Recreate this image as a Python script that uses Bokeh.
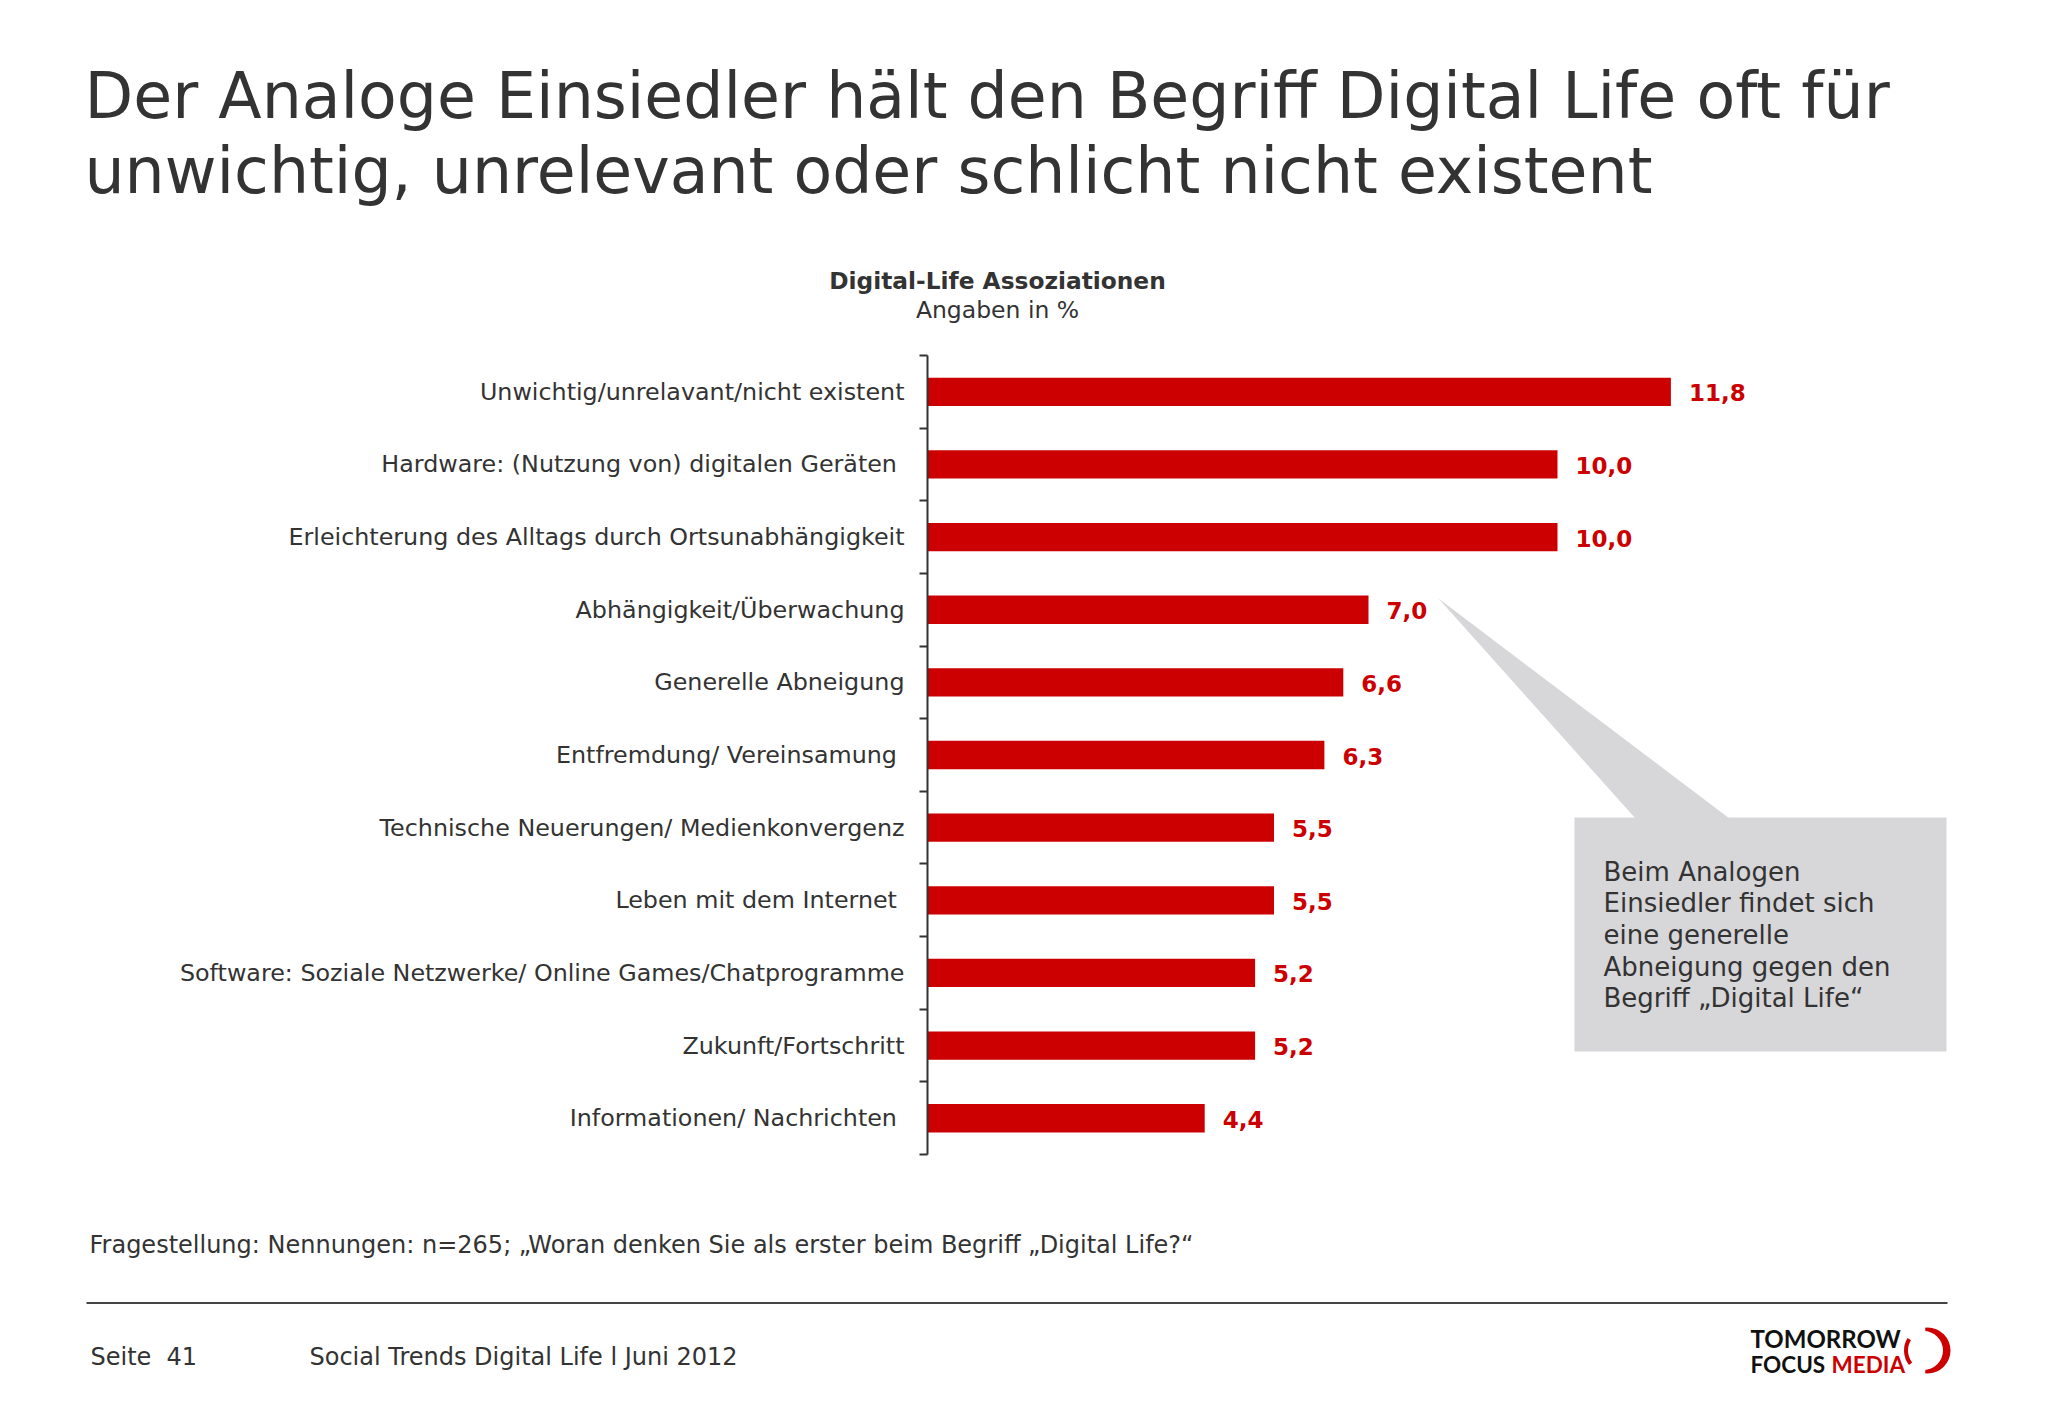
from bokeh.plotting import figure
from bokeh.models import (LinearAxis, FixedTicker, Range1d, Label, BoxAnnotation,
                          ColumnDataSource)
from bokeh.core.properties import value
from bokeh.embed import file_html
from bokeh.resources import INLINE

# ---------------- data ----------------
categories = [
    "Unwichtig/unrelavant/nicht existent",
    "Hardware: (Nutzung von) digitalen Geräten ",
    "Erleichterung des Alltags durch Ortsunabhängigkeit",
    "Abhängigkeit/Überwachung",
    "Generelle Abneigung",
    "Entfremdung/ Vereinsamung ",
    "Technische Neuerungen/ Medienkonvergenz",
    "Leben mit dem Internet ",
    "Software: Soziale Netzwerke/ Online Games/Chatprogramme",
    "Zukunft/Fortschritt",
    "Informationen/ Nachrichten ",
]
values = [11.8, 10.0, 10.0, 7.0, 6.6, 6.3, 5.5, 5.5, 5.2, 5.2, 4.4]

title_lines = [
    "Der Analoge Einsiedler hält den Begriff Digital Life oft für",
    "unwichtig, unrelevant oder schlicht nicht existent",
]
chart_title = "Digital-Life Assoziationen"
chart_subtitle = "Angaben in %"
callout_lines = [
    "Beim Analogen",
    "Einsiedler findet sich",
    "eine generelle",
    "Abneigung gegen den",
    "Begriff „Digital Life“",
]
footnote = "Fragestellung: Nennungen: n=265; „Woran denken Sie als erster beim Begriff „Digital Life?“"
footer_page = "Seite\u00a0 41"
footer_source = "Social Trends Digital Life l Juni 2012"

# ---------------- layout helpers (canvas pixels) ----------------
W, H = 2032, 1402
LEFT = 40             # frame starts here; the axis panel sits in this strip
X0 = 927              # px of value 0 (the axis)
PX_PER_UNIT = 63.0
Y0 = 355              # px of the top category boundary
PX_PER_ROW = 72.64
K = 0.37              # baseline sits this many em below a "middle" anchor

def dx(px):
    return (px - X0) / PX_PER_UNIT

def dy(py):
    return (py - Y0) / PX_PER_ROW

TEXT = "#333333"
RED = "#cc0000"
FONT = "DejaVu Sans"

p = figure(width=W, height=H, output_backend="svg", toolbar_location=None,
           x_range=Range1d(dx(LEFT), dx(W)), y_range=Range1d(dy(H), dy(0)),
           x_axis_location=None, y_axis_location=None,
           min_border_left=LEFT, min_border_right=0,
           min_border_top=0, min_border_bottom=0)
p.outline_line_color = None
p.background_fill_color = "white"
p.border_fill_color = "white"
p.xgrid.visible = False
p.ygrid.visible = False

n = len(categories)
centers = [i + 0.5 for i in range(n)]
value_labels = [f"{v:.1f}".replace(".", ",") for v in values]
src = ColumnDataSource(dict(y=centers, v=values, lab=value_labels, cat=categories,
                            zero=[0] * n))

ax = LinearAxis(
    fixed_location=0,
    ticker=FixedTicker(ticks=list(range(n + 1))),
    bounds=(0, n),
    major_tick_out=8, major_tick_in=0,
    minor_tick_out=0, minor_tick_in=0,
    axis_line_color=TEXT, axis_line_width=2,
    major_tick_line_color=TEXT, major_tick_line_width=2,
    major_label_text_font_size="0px", major_label_text_alpha=0,
    major_label_standoff=0,
)
p.add_layout(ax, "left")

p.hbar(y="y", left=0, right="v", height=0.39, source=src,
       fill_color=RED, line_color=None)
# category labels
p.text(x="zero", y="y", text="cat", source=src, x_offset=-23, y_offset=0,
       text_baseline="middle", text_align="right",
       text_font=value(FONT), text_font_size="23.8px", text_color=TEXT)
# value labels
p.text(x="v", y="y", text="lab", source=src, x_offset=18, y_offset=1,
       text_baseline="middle", text_align="left",
       text_font=value(FONT), text_font_style="bold",
       text_font_size="23px", text_color=RED)


def add_text(text, px, baseline, size, bold=False, color=TEXT, align="left", font=FONT):
    p.add_layout(Label(x=dx(px), y=dy(baseline - K * size), text=text, text_font=font,
                       text_font_size=f"{size}px",
                       text_font_style="bold" if bold else "normal",
                       text_color=color, text_align=align,
                       text_baseline="middle"))


# title
add_text(title_lines[0], 84, 119, 63.3)
add_text(title_lines[1], 84, 194, 63.3)
# chart title
add_text(chart_title, 997, 289, 23.3, bold=True, align="center")
add_text(chart_subtitle, 997, 318, 23.5, align="center")

# callout
GREY = "#d7d6d9"
p.patch(x=[dx(1438), dx(1635), dx(1729)], y=[dy(598), dy(818), dy(818)],
        fill_color=GREY, line_color=None)
p.add_layout(BoxAnnotation(left=dx(1574), right=dx(1946), top=dy(817), bottom=dy(1051),
                           fill_color=GREY, fill_alpha=1, line_color=None))
for i, line in enumerate(callout_lines):
    add_text(line, 1603, 881 + i * 31.6, 26)

# footnote, rule, footer
add_text(footnote, 89, 1253, 24)
p.add_layout(BoxAnnotation(left=dx(86), right=dx(1947), top=dy(1301.5), bottom=dy(1303.5),
                           fill_color="#444444", fill_alpha=1, line_color=None))
add_text(footer_page, 90, 1365, 24)
add_text(footer_source, 309, 1365, 24)

# logo
add_text("TOMORROW", 1750, 1347, 24, bold=True, color="#111111", font="Lato")
add_text("FOCUS", 1750, 1372, 22.5, bold=True, color="#111111", font="Lato")
add_text("MEDIA", 1831, 1372, 22.5, bold=True, color=RED, font="Lato")
cx, cy = dx(1927), dy(1350)
p.scatter(x=[cx], y=[cy], size=46, fill_color=RED, line_color=None)
p.scatter(x=[dx(1923)], y=[cy], size=39, fill_color="white", line_color=None)
p.annular_wedge(x=[cx], y=[cy], inner_radius=14, outer_radius=26,
                inner_radius_units="screen", outer_radius_units="screen",
                start_angle=96, end_angle=264, start_angle_units="deg", end_angle_units="deg",
                fill_color="white", line_color=None)
p.annular_wedge(x=[cx], y=[cy], inner_radius=19.5, outer_radius=23.5,
                inner_radius_units="screen", outer_radius_units="screen",
                start_angle=148, end_angle=218, start_angle_units="deg", end_angle_units="deg",
                fill_color=RED, line_color=None)

open("out.html", "w").write(file_html(p, INLINE))
